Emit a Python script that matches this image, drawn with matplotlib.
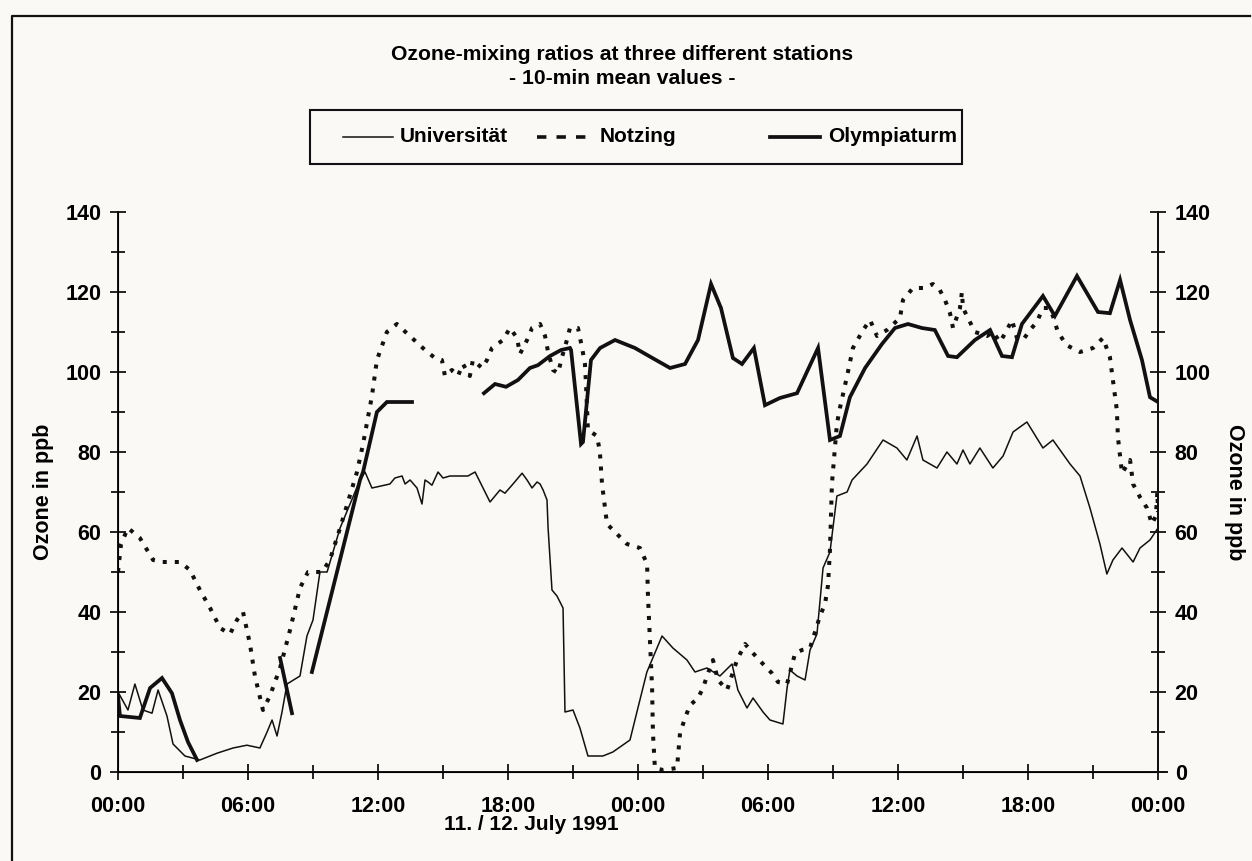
import numpy as np
import matplotlib
matplotlib.use('Agg')
import matplotlib.pyplot as plt
from matplotlib.lines import Line2D
from matplotlib.patches import Rectangle

plt.rcParams['font.family'] = ['Liberation Sans', 'DejaVu Sans']
plt.rcParams['font.weight'] = 'bold'

# hours after 00:00 on 11 July 1991, ozone in ppb
uni_t = [0.0, 0.46, 0.78, 1.15, 1.57, 1.85, 2.26, 2.54, 3.09, 3.78, 4.57, 5.31, 5.95,
         6.55, 6.88, 7.11, 7.34, 7.57, 7.80, 8.40, 8.72, 9.00, 9.32, 9.65, 10.25, 11.17,
         11.40, 11.72, 12.55, 12.78, 13.11, 13.25, 13.48, 13.80, 14.03, 14.17, 14.31,
         14.49, 14.77, 15.00, 15.32, 15.55, 15.92, 16.15, 16.48, 16.71, 16.94, 17.17,
         17.40, 17.63, 17.86, 18.23, 18.65, 18.88, 19.11, 19.34, 19.48, 19.62, 19.80,
         19.85, 20.03, 20.26, 20.54, 20.63, 21.00, 21.32, 21.69, 22.38, 22.84, 23.63,
         23.95, 24.41, 25.11, 25.61, 26.26, 26.63, 27.18, 27.78, 28.34, 28.61, 29.03,
         29.31, 29.77, 30.09, 30.69, 30.88, 31.01, 31.34, 31.71, 31.94, 32.26, 32.54,
         32.86, 33.18, 33.65, 33.88, 34.57, 35.31, 35.95, 36.41, 36.88, 37.15, 37.80,
         38.26, 38.72, 39.00, 39.32, 39.78, 40.38, 40.85, 41.31, 41.95, 42.69, 43.15,
         43.94, 44.40, 44.86, 45.32, 45.64, 45.92, 46.34, 46.85, 47.17, 47.63, 48.0]
uni_v = [20, 15.5, 22, 15.5, 14.7, 20.5, 14, 7, 4, 3, 4.7, 6, 6.7,
         6, 10, 13, 9, 15, 22, 24, 34, 38, 50, 50, 61, 73,
         75, 71, 72, 73.5, 74, 72, 73, 71, 67, 73, 72.5,
         71.7, 75, 73.5, 74, 74, 74, 74, 75, 72.5, 70, 67.5,
         69, 70.5, 69.7, 72, 74.7, 73, 71, 72.5, 72, 70.5, 68,
         61, 45.5, 44, 41, 15, 15.5, 11, 4, 4, 5, 8,
         15, 25, 34, 31, 28, 25, 26, 24, 27, 20.5, 16,
         18.5, 15, 13, 12, 21, 25.5, 24, 23, 30.5, 34.5, 51,
         55, 69, 70, 73, 77, 83, 81, 78, 84, 78, 76,
         80, 77, 80.5, 77, 81, 76, 79, 85, 87.5, 81, 83,
         77, 74, 66, 57, 49.5, 53, 56, 52.5, 56, 58, 61]

notz_t = [0.0, 0.14, 0.46, 1.01, 1.62, 2.03, 2.86, 3.32, 3.78, 4.25, 4.71, 5.17, 5.49,
          5.77, 6.09, 6.32, 6.69, 7.01, 7.48, 7.94, 8.40, 8.77, 9.42, 9.78, 10.25, 11.03,
          11.31, 11.72, 11.95, 12.41, 12.87, 13.47, 14.17, 14.63, 14.95, 15.09, 15.41,
          15.69, 15.92, 16.24, 16.38, 16.80, 17.03, 17.26, 17.77, 18.09, 18.42, 18.55,
          18.88, 19.11, 19.48, 19.71, 19.85, 20.08, 20.31, 20.49, 20.72, 20.86, 21.23,
          21.42, 21.55, 21.60, 21.65, 21.69, 22.11, 22.24, 22.34, 22.57, 23.49, 24.09,
          24.42, 24.46, 24.55, 24.65, 24.69, 24.78, 25.15, 25.80, 25.94, 26.17, 26.40,
          26.77, 27.00, 27.23, 27.46, 27.69, 28.11, 28.57, 28.94, 29.31, 29.77, 30.18,
          30.46, 30.88, 31.25, 31.57, 31.94, 32.40, 32.63, 32.77, 32.86, 32.95, 33.18,
          33.32, 33.65, 33.92, 34.39, 34.71, 35.03, 35.49, 36.09, 36.23, 36.69, 37.24,
          37.61, 37.93, 38.17, 38.40, 38.54, 38.86, 38.95, 39.00, 39.32, 39.55, 40.11,
          40.38, 40.71, 41.03, 41.26, 41.49, 41.77, 42.09, 42.41, 42.69, 42.96, 43.15,
          43.38, 43.78, 44.40, 45.00, 45.46, 45.78, 45.92, 46.10, 46.15, 46.34, 46.71,
          46.85, 47.17, 47.49, 47.72, 47.90, 47.97, 48.0]
notz_v = [50, 57, 61, 58.5, 53, 52.5, 52.5, 50.5, 45.5, 41, 36, 34.5, 38,
          40, 32, 24, 15.5, 19, 26, 35.5, 46, 50, 50, 53, 61, 75,
          82, 94, 103, 110, 112, 109, 105.5, 103.5, 103, 99, 100.5,
          99, 102, 99, 103, 101, 103, 106, 108, 111, 108.5, 104.5,
          108, 111, 112, 109, 105, 100.5, 99.7, 103.7, 108, 111, 111,
          106, 102, 97, 90.5, 85.5, 84, 80, 72, 62, 57, 56,
          52, 44, 33, 21, 9.7, 1, 0.5, 1, 9.7, 13.5, 16.7,
          18.5, 21, 24.7, 28, 23, 20.5, 28, 32, 29.7, 27, 24.7,
          22.5, 22, 29.7, 30.5, 31, 39, 42, 46.7, 55.5, 72, 87,
          91, 99, 106, 110.5, 113, 109, 110.5, 113.5, 118, 121, 121,
          122, 120.5, 118, 114.7, 111, 116, 120, 116, 112.5, 110, 109,
          110, 107.5, 110.5, 113, 108.5, 108, 110.5, 112.5, 116, 116, 114,
          110, 106.7, 105, 106, 108.5, 103.7, 98, 90.5, 83.7, 74.7, 78,
          72, 68.7, 66, 62, 64, 70, 65]

# NaN = no data (gaps in the record)
olym_t = [0.0, 0.09, 1.01, 1.48, 2.03, 2.49, 2.86, 3.23, 3.65, np.nan,
          7.48, 8.03, np.nan,
          8.95, 11.17, 11.31, 11.95, 12.41, 13.57, np.nan,
          16.89, 17.40, 17.91, 18.46, 19.01, 19.38, 19.94, 20.45, 20.86, 20.91, 21.37,
          21.46, 21.83, 22.25, 22.94, 23.86, 24.60, 25.48, 26.17, 26.77, 27.37, 27.83,
          28.38, 28.80, 29.35, 29.86, 30.55, 31.34, 32.31, 32.86, 33.32, 33.78, 34.48,
          35.26, 35.86, 36.46, 37.10, 37.70, 38.31, 38.72, 39.55, 40.25, 40.80, 41.26,
          41.72, 42.69, 43.24, 44.26, 45.23, 45.78, 46.25, 46.71, 47.26, 47.63, 48.0]
olym_v = [19, 14, 13.5, 21, 23.5, 19.7, 13, 7.5, 3, np.nan,
          28.5, 14.7, np.nan,
          25, 73, 75, 90, 92.5, 92.5, np.nan,
          94.7, 97, 96.3, 98, 101, 101.7, 104, 105.5, 106, 105.5, 82,
          82.5, 103, 106, 108, 106, 103.7, 101, 102, 108, 122, 116,
          103.5, 102, 106, 91.7, 93.5, 94.7, 106, 83, 84, 93.7, 101,
          107, 111, 112, 111, 110.5, 104, 103.7, 108, 110.5, 104, 103.7,
          112, 119, 114, 124, 115, 114.7, 123, 113, 103, 93.7, 92.5]

x_ticks = [0, 6, 12, 18, 24, 30, 36, 42, 48]
x_labels = ['00:00', '06:00', '12:00', '18:00', '00:00', '06:00', '12:00', '18:00', '00:00']

W, H = 1252, 861
def fx(px):
    return px / W
def fy(py):
    return 1 - py / H

ink = '#111111'
fig = plt.figure(figsize=(W / 100, H / 100), dpi=100, facecolor='#fbf9f6')
ax = fig.add_axes([fx(118), fy(772), 1040 / W, 560 / H])
ax.set_facecolor('none')

ax.plot(uni_t, uni_v, color=ink, lw=1.1)
ax.plot(notz_t, notz_v, color=ink, lw=2.9, linestyle=(0, (1.0, 2.0)), dash_capstyle='butt')
ax.plot(olym_t, olym_v, color=ink, lw=2.7, solid_joinstyle='miter')

ax.set_xlim(0, 48)
ax.set_ylim(0, 140)
ax.set_xticks(x_ticks)
ax.set_xticklabels(x_labels)
ax.set_xticks(np.arange(3, 48, 6), minor=True)
ax.set_yticks(np.arange(0, 141, 20))
ax.set_yticks(np.arange(10, 140, 20), minor=True)

ax.spines['top'].set_visible(False)
for s in ['left', 'right', 'bottom']:
    ax.spines[s].set_linewidth(1.4)
    ax.spines[s].set_color(ink)

ax2 = ax.twinx()
ax2.set_ylim(0, 140)
ax2.set_yticks(np.arange(0, 141, 20))
ax2.set_yticks(np.arange(10, 140, 20), minor=True)
ax2.spines['top'].set_visible(False)
ax2.spines['right'].set_linewidth(1.4)
ax2.spines['right'].set_color(ink)

for a in (ax, ax2):
    a.tick_params(which='major', direction='inout', length=12, width=1.3, color=ink,
                  labelsize=15.5, pad=6)
    a.tick_params(which='minor', direction='inout', length=10, width=1.3, color=ink)
ax.tick_params(axis='x', which='major', pad=11)
for lab in ax.get_xticklabels() + ax.get_yticklabels() + ax2.get_yticklabels():
    lab.set_fontweight('bold')

# the bottom axis line runs on a little past the right axis
fig.add_artist(Line2D([fx(1158), fx(1167)], [fy(772), fy(772)], color=ink, lw=1.4))

ax.set_ylabel('Ozone in ppb', fontsize=15.5, fontweight='bold', labelpad=8)
ax2.set_ylabel('Ozone in ppb', fontsize=15.5, fontweight='bold', rotation=-90, labelpad=25)
fig.text(fx(531), fy(824), '11. / 12. July 1991', fontsize=15, fontweight='bold',
         ha='center', va='center')

# title
fig.text(fx(622), fy(55), 'Ozone-mixing ratios at three different stations',
         fontsize=15.2, fontweight='bold', ha='center', va='center')
fig.text(fx(622), fy(78), '- 10-min mean values -', fontsize=15.2, fontweight='bold',
         ha='center', va='center')

# legend box
fig.add_artist(Rectangle((fx(310), fy(164)), 652 / W, 54 / H, transform=fig.transFigure,
                         fill=False, edgecolor=ink, lw=1.5))
ly = fy(137)
fig.add_artist(Line2D([fx(343), fx(393)], [ly, ly], color=ink, lw=1.1))
fig.text(fx(400), ly, 'Universität', fontsize=15, fontweight='bold', va='center')
fig.add_artist(Line2D([fx(537), fx(592)], [ly, ly], color=ink, lw=2.6,
                      linestyle=(0, (2.6, 2.8)), dash_capstyle='butt'))
fig.text(fx(600), ly, 'Notzing', fontsize=15, fontweight='bold', va='center')
fig.add_artist(Line2D([fx(770), fx(820)], [ly, ly], color=ink, lw=2.7))
fig.text(fx(828), ly, 'Olympiaturm', fontsize=15, fontweight='bold', va='center')

# outer frame of the scanned page
fig.add_artist(Line2D([fx(12), fx(12), fx(1250)], [0, fy(16), fy(16)], color=ink, lw=1.6))

fig.savefig('out.png', dpi=100, facecolor=fig.get_facecolor())
